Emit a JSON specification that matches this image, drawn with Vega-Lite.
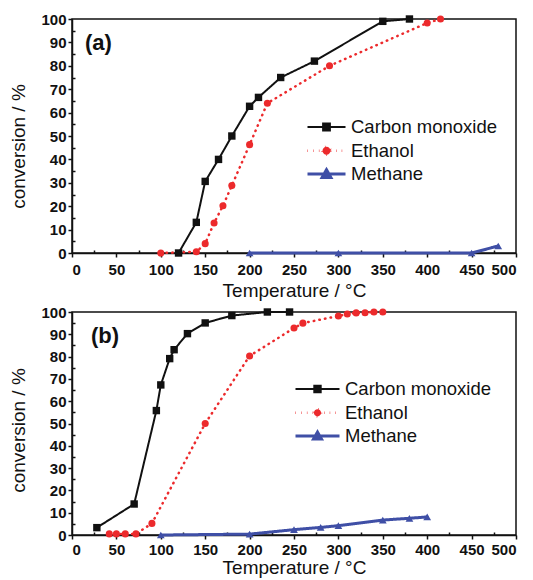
{
  "$schema": "https://vega.github.io/schema/vega-lite/v6.json",
  "padding": {"left": 9, "top": 11, "right": 5, "bottom": 0},
  "spacing": 3,
  "config": {
    "font": "Liberation Sans",
    "view": {"stroke": "#111", "strokeWidth": 1.5},
    "axis": {
      "grid": false, "domainColor": "#111", "domainWidth": 1.5, "tickColor": "#111", "tickWidth": 1.5,
      "labelFont": "Liberation Sans", "labelFontSize": 15, "labelFontWeight": "bold", "labelColor": "#111",
      "titleFont": "Liberation Sans", "titleFontSize": 19, "titleFontWeight": "normal", "titleColor": "#111",
      "labelOverlap": false
    },
    "legend": {"labelFont": "Liberation Sans", "labelFontSize": 18.5, "labelColor": "#111"}
  },
  "datasets": {
    "a": [
      {"T": 120, "conv": 0, "gas": "Carbon monoxide"},
      {"T": 140, "conv": 13.1, "gas": "Carbon monoxide"},
      {"T": 150, "conv": 30.6, "gas": "Carbon monoxide"},
      {"T": 165, "conv": 40, "gas": "Carbon monoxide"},
      {"T": 180, "conv": 50, "gas": "Carbon monoxide"},
      {"T": 200, "conv": 62.7, "gas": "Carbon monoxide"},
      {"T": 210, "conv": 66.5, "gas": "Carbon monoxide"},
      {"T": 235, "conv": 75, "gas": "Carbon monoxide"},
      {"T": 273, "conv": 82, "gas": "Carbon monoxide"},
      {"T": 350, "conv": 99, "gas": "Carbon monoxide"},
      {"T": 380, "conv": 100, "gas": "Carbon monoxide"},
      {"T": 100, "conv": 0, "gas": "Ethanol"},
      {"T": 140, "conv": 0.5, "gas": "Ethanol"},
      {"T": 150, "conv": 4, "gas": "Ethanol"},
      {"T": 160, "conv": 12.8, "gas": "Ethanol"},
      {"T": 170, "conv": 20.2, "gas": "Ethanol"},
      {"T": 180, "conv": 28.8, "gas": "Ethanol"},
      {"T": 200, "conv": 46.3, "gas": "Ethanol"},
      {"T": 220, "conv": 64, "gas": "Ethanol"},
      {"T": 290, "conv": 80, "gas": "Ethanol"},
      {"T": 400, "conv": 98.3, "gas": "Ethanol"},
      {"T": 415, "conv": 100, "gas": "Ethanol"},
      {"T": 200, "conv": 0, "gas": "Methane"},
      {"T": 300, "conv": 0, "gas": "Methane"},
      {"T": 450, "conv": 0, "gas": "Methane"},
      {"T": 480, "conv": 3, "gas": "Methane"}
    ],
    "b": [
      {"T": 28, "conv": 3.3, "gas": "Carbon monoxide"},
      {"T": 70, "conv": 13.9, "gas": "Carbon monoxide"},
      {"T": 95, "conv": 55.8, "gas": "Carbon monoxide"},
      {"T": 100, "conv": 67.3, "gas": "Carbon monoxide"},
      {"T": 110, "conv": 79.1, "gas": "Carbon monoxide"},
      {"T": 115, "conv": 83.1, "gas": "Carbon monoxide"},
      {"T": 130, "conv": 90.3, "gas": "Carbon monoxide"},
      {"T": 150, "conv": 95.1, "gas": "Carbon monoxide"},
      {"T": 180, "conv": 98.4, "gas": "Carbon monoxide"},
      {"T": 220, "conv": 100, "gas": "Carbon monoxide"},
      {"T": 245, "conv": 100, "gas": "Carbon monoxide"},
      {"T": 42, "conv": 0.5, "gas": "Ethanol"},
      {"T": 50, "conv": 0.5, "gas": "Ethanol"},
      {"T": 60, "conv": 0.5, "gas": "Ethanol"},
      {"T": 72, "conv": 0.5, "gas": "Ethanol"},
      {"T": 90, "conv": 5.2, "gas": "Ethanol"},
      {"T": 150, "conv": 50, "gas": "Ethanol"},
      {"T": 200, "conv": 80.3, "gas": "Ethanol"},
      {"T": 250, "conv": 92.8, "gas": "Ethanol"},
      {"T": 260, "conv": 95, "gas": "Ethanol"},
      {"T": 300, "conv": 98.2, "gas": "Ethanol"},
      {"T": 310, "conv": 99.1, "gas": "Ethanol"},
      {"T": 320, "conv": 99.6, "gas": "Ethanol"},
      {"T": 330, "conv": 99.7, "gas": "Ethanol"},
      {"T": 340, "conv": 100, "gas": "Ethanol"},
      {"T": 350, "conv": 100, "gas": "Ethanol"},
      {"T": 100, "conv": 0, "gas": "Methane"},
      {"T": 200, "conv": 0.4, "gas": "Methane"},
      {"T": 250, "conv": 2.4, "gas": "Methane"},
      {"T": 280, "conv": 3.4, "gas": "Methane"},
      {"T": 300, "conv": 4.2, "gas": "Methane"},
      {"T": 350, "conv": 6.7, "gas": "Methane"},
      {"T": 380, "conv": 7.5, "gas": "Methane"},
      {"T": 400, "conv": 8.1, "gas": "Methane"}
    ]
  },
  "resolve": {
    "scale": {"color": "independent", "strokeDash": "independent", "strokeWidth": "independent"},
    "legend": {"color": "independent", "strokeDash": "independent", "strokeWidth": "independent"}
  },
  "vconcat": [
    {
      "width": 444, "height": 234,
      "data": {"name": "a"},
      "title": {"text": "(a)", "anchor": "start", "frame": "group", "orient": "top", "offset": 0, "dy": 60, "dx": 13, "fontSize": 22, "fontWeight": "bold", "color": "#111", "baseline": "alphabetic"},
      "encoding": {
        "x": {"field": "T", "type": "quantitative", "scale": {"domain": [0, 500], "nice": false},
          "axis": {"title": "Temperature  / °C", "values": [0,25,50,75,100,125,150,175,200,225,250,275,300,325,350,375,400,425,450,475,500],
            "labelExpr": "datum.value % 50 === 0 ? datum.label : ''",
            "tickSize": {"condition": {"test": "datum.value % 50 === 0", "value": 4}, "value": -3},
            "labelPadding": 5, "titlePadding": 4}},
        "y": {"field": "conv", "type": "quantitative", "scale": {"domain": [0, 100], "nice": false},
          "axis": {"title": "conversion / %", "values": [0,5,10,15,20,25,30,35,40,45,50,55,60,65,70,75,80,85,90,95,100],
            "labelExpr": "datum.value % 10 === 0 ? datum.label : ''",
            "tickSize": {"condition": {"test": "datum.value % 10 === 0", "value": 4}, "value": -3},
            "labelPadding": 2, "titlePadding": 12, "titleY": 127}},
        "color": {"field": "gas", "type": "nominal",
          "scale": {"domain": ["Carbon monoxide", "Ethanol", "Methane"], "range": ["#111111", "#ec2a2c", "#3f4fa6"]}, "legend": null}
      },
      "layer": [
        {"mark": {"type": "line", "strokeCap": "round"},
          "encoding": {
            "color": {"field": "gas", "type": "nominal",
              "legend": {"orient": "none", "legendX": 243, "legendY": 97, "title": null, "symbolSize": 400, "labelOffset": 13, "rowPadding": 2.3, "padding": 0,
                "symbolOpacity": 1,
                "symbolType": {"expr": "datum.value === 'Carbon monoxide' ? 'M-1.9,0H1.9M-0.34,-0.34H0.34V0.34H-0.34Z' : datum.value === 'Ethanol' ? 'M-1.9,0H1.9M0.4,0A0.4,0.4,0,1,1,-0.4,0A0.4,0.4,0,1,1,0.4,0Z' : 'M-1.9,0H1.9M0,-0.44L0.44,0.34H-0.44Z'"},
                "symbolFillColor": {"expr": "datum.value === 'Carbon monoxide' ? '#111111' : datum.value === 'Ethanol' ? '#ec2a2c' : '#3f4fa6'"},
                "symbolStrokeColor": {"expr": "datum.value === 'Carbon monoxide' ? '#111111' : datum.value === 'Ethanol' ? '#ec2a2c' : '#3f4fa6'"},
                "symbolStrokeWidth": {"expr": "datum.value === 'Ethanol' ? 3 : 2"}}},
            "strokeDash": {"field": "gas", "type": "nominal", "scale": {"domain": ["Carbon monoxide", "Ethanol", "Methane"], "range": [[1, 0], [0.5, 5.2], [1, 0]]}},
            "strokeWidth": {"field": "gas", "type": "nominal", "scale": {"domain": ["Carbon monoxide", "Ethanol", "Methane"], "range": [2, 3, 2]}, "legend": null}
          }},
        {"transform": [{"filter": "datum.gas === 'Carbon monoxide'"}],
          "mark": {"type": "point", "filled": true, "opacity": 1, "shape": "square", "size": 55}},
        {"transform": [{"filter": "datum.gas === 'Ethanol'"}],
          "mark": {"type": "point", "filled": true, "opacity": 1, "shape": "circle", "size": 50}},
        {"transform": [{"filter": "datum.gas === 'Methane'"}],
          "mark": {"type": "point", "filled": true, "opacity": 1, "shape": "triangle-up", "size": 60}}
      ]
    },
    {
      "width": 444, "height": 223,
      "data": {"name": "b"},
      "title": {"text": "(b)", "anchor": "start", "frame": "group", "orient": "top", "offset": 0, "dy": 60, "dx": 19, "fontSize": 22, "fontWeight": "bold", "color": "#111", "baseline": "alphabetic"},
      "encoding": {
        "x": {"field": "T", "type": "quantitative", "scale": {"domain": [0, 500], "nice": false},
          "axis": {"title": "Temperature  / °C", "values": [0,25,50,75,100,125,150,175,200,225,250,275,300,325,350,375,400,425,450,475,500],
            "labelExpr": "datum.value % 50 === 0 ? datum.label : ''",
            "tickSize": {"condition": {"test": "datum.value % 50 === 0", "value": 4}, "value": -3},
            "labelPadding": 3, "titlePadding": 1}},
        "y": {"field": "conv", "type": "quantitative", "scale": {"domain": [0, 100], "nice": false},
          "axis": {"title": "conversion / %", "values": [0,5,10,15,20,25,30,35,40,45,50,55,60,65,70,75,80,85,90,95,100],
            "labelExpr": "datum.value % 10 === 0 ? datum.label : ''",
            "tickSize": {"condition": {"test": "datum.value % 10 === 0", "value": 4}, "value": -3},
            "labelPadding": 2, "titlePadding": 12, "titleY": 118}},
        "color": {"field": "gas", "type": "nominal",
          "scale": {"domain": ["Carbon monoxide", "Ethanol", "Methane"], "range": ["#111111", "#ec2a2c", "#3f4fa6"]}, "legend": null}
      },
      "layer": [
        {"mark": {"type": "line", "strokeCap": "round"},
          "encoding": {
            "color": {"field": "gas", "type": "nominal",
              "legend": {"orient": "none", "legendX": 234, "legendY": 66, "title": null, "symbolSize": 400, "labelOffset": 16, "rowPadding": 2.3, "padding": 0,
                "symbolOpacity": 1,
                "symbolType": {"expr": "datum.value === 'Carbon monoxide' ? 'M-2.2,0H2.2M-0.32,-0.32H0.32V0.32H-0.32Z' : datum.value === 'Ethanol' ? 'M-2.2,0H2.2M0.36,0A0.36,0.36,0,1,1,-0.36,0A0.36,0.36,0,1,1,0.36,0Z' : 'M-2.2,0H2.2M0,-0.4L0.4,0.3H-0.4Z'"},
                "symbolFillColor": {"expr": "datum.value === 'Carbon monoxide' ? '#111111' : datum.value === 'Ethanol' ? '#ec2a2c' : '#3f4fa6'"},
                "symbolStrokeColor": {"expr": "datum.value === 'Carbon monoxide' ? '#111111' : datum.value === 'Ethanol' ? '#ec2a2c' : '#3f4fa6'"},
                "symbolStrokeWidth": {"expr": "datum.value === 'Ethanol' ? 3 : 2"}}},
            "strokeDash": {"field": "gas", "type": "nominal", "scale": {"domain": ["Carbon monoxide", "Ethanol", "Methane"], "range": [[1, 0], [0.5, 5.2], [1, 0]]}},
            "strokeWidth": {"field": "gas", "type": "nominal", "scale": {"domain": ["Carbon monoxide", "Ethanol", "Methane"], "range": [2, 3, 2]}, "legend": null}
          }},
        {"transform": [{"filter": "datum.gas === 'Carbon monoxide'"}],
          "mark": {"type": "point", "filled": true, "opacity": 1, "shape": "square", "size": 55}},
        {"transform": [{"filter": "datum.gas === 'Ethanol'"}],
          "mark": {"type": "point", "filled": true, "opacity": 1, "shape": "circle", "size": 50}},
        {"transform": [{"filter": "datum.gas === 'Methane'"}],
          "mark": {"type": "point", "filled": true, "opacity": 1, "shape": "triangle-up", "size": 60}}
      ]
    }
  ]
}
